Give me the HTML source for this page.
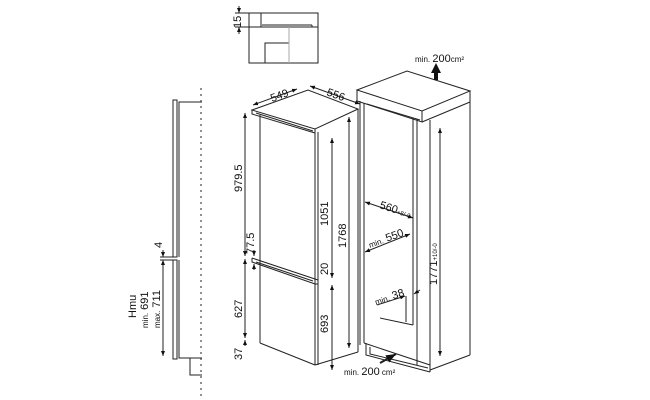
<!DOCTYPE html>
<html><head><meta charset="utf-8"><style>
html,body{margin:0;padding:0;background:#fff;}
svg{display:block;font-family:"Liberation Sans",sans-serif;}
text{font-size:11px;fill:#111;}
.s{font-size:8px;}
</style></head><body>
<svg width="650" height="400" viewBox="0 0 650 400">
<defs>
<marker id="a" viewBox="0 0 10 10" refX="10" refY="5" markerWidth="5" markerHeight="5" orient="auto-start-reverse"><path d="M0,1 L10,5 L0,9z" fill="#111"/></marker>
</defs>
<g fill="none" stroke="#222" stroke-width="1">
<rect x="249" y="13" width="69" height="50"/>
<line x1="249" y1="27" x2="318" y2="27"/>
<line x1="261" y1="13" x2="261" y2="27"/>
<line x1="262" y1="25" x2="312" y2="25"/>
<line x1="312" y1="25" x2="312" y2="27"/>
<polyline points="265,63 265,43 289,43"/>
<line x1="289" y1="27" x2="289" y2="63" stroke="#aaa"/>
<line x1="235" y1="13" x2="249" y2="13"/>
<line x1="235" y1="27" x2="249" y2="27"/>
<line x1="239" y1="6" x2="239" y2="13" marker-end="url(#a)"/>
<line x1="239" y1="34" x2="239" y2="27" marker-end="url(#a)"/>

<rect x="173" y="100" width="4" height="157"/>
<rect x="173" y="260" width="4" height="99"/>
<polyline points="202,102 179,102 179,257"/>
<polyline points="202,358 179,358 179,260"/>
<polyline points="190,358 190,375 202,375"/>
<line x1="201" y1="88" x2="201" y2="396" stroke-dasharray="2,4"/>
<line x1="163" y1="260" x2="163" y2="356" marker-start="url(#a)" marker-end="url(#a)"/>
<line x1="160" y1="257" x2="173" y2="257"/>
<line x1="160" y1="260" x2="173" y2="260"/>
<line x1="163" y1="250" x2="163" y2="257" marker-end="url(#a)"/>

<polygon points="252,110 308,90 358,109 315,129"/>
<polyline points="252,110 252,114 315,133"/>
<line x1="256" y1="113" x2="313" y2="131"/>
<line x1="260" y1="115" x2="260" y2="343"/>
<line x1="315" y1="129" x2="315" y2="365"/>
<line x1="318" y1="132" x2="318" y2="365"/>
<line x1="358" y1="109" x2="358" y2="352"/>
<line x1="315" y1="365" x2="358" y2="352"/>
<line x1="260" y1="343" x2="315" y2="365"/>
<polyline points="252,258 252,262 315,284 318,284"/>
<line x1="252" y1="258" x2="318" y2="280"/>
<line x1="256" y1="262" x2="313" y2="281"/>
<line x1="318" y1="277" x2="318" y2="284"/>
<line x1="245" y1="113" x2="245" y2="256" marker-start="url(#a)" marker-end="url(#a)"/>
<line x1="245" y1="259" x2="245" y2="338" marker-start="url(#a)" marker-end="url(#a)"/>
<line x1="245" y1="340" x2="245" y2="346" marker-start="url(#a)"/>
<line x1="254" y1="250" x2="254" y2="256" marker-end="url(#a)"/>
<line x1="254" y1="270" x2="254" y2="264" marker-end="url(#a)"/>
<line x1="332" y1="138" x2="332" y2="278" marker-start="url(#a)" marker-end="url(#a)"/>
<line x1="332" y1="285" x2="332" y2="370" marker-start="url(#a)" marker-end="url(#a)"/>
<line x1="349" y1="117" x2="349" y2="348" marker-start="url(#a)" marker-end="url(#a)"/>
<line x1="253" y1="105" x2="297" y2="89" marker-start="url(#a)" marker-end="url(#a)"/>
<line x1="310" y1="86" x2="360" y2="104" marker-start="url(#a)" marker-end="url(#a)"/>

<polygon points="357,90 407,71 470,91 422,111"/>
<polyline points="357,90 357,101 422,122 422,111"/>
<line x1="422" y1="122" x2="470" y2="102"/>
<line x1="470" y1="91" x2="470" y2="355"/>
<line x1="430" y1="370" x2="470" y2="355"/>
<line x1="360" y1="101" x2="360" y2="345"/>
<line x1="364" y1="103" x2="364" y2="343"/>
<line x1="367" y1="104" x2="420" y2="120"/>
<line x1="413" y1="118" x2="413" y2="325"/>
<line x1="417" y1="119" x2="417" y2="365"/>
<line x1="430" y1="120" x2="430" y2="372"/>
<line x1="364" y1="343" x2="430" y2="365"/>
<polyline points="366,343 366,355 430,372"/>
<polyline points="370,347 370,354 428,368"/>
<line x1="380" y1="318" x2="413" y2="325"/>
<line x1="406" y1="296" x2="406" y2="322"/>
<line x1="440" y1="128" x2="440" y2="356" marker-start="url(#a)" marker-end="url(#a)"/>
<line x1="365" y1="202" x2="413" y2="218" marker-start="url(#a)" marker-end="url(#a)"/>
<line x1="365" y1="252" x2="410" y2="234" marker-start="url(#a)" marker-end="url(#a)"/>
<line x1="377" y1="305" x2="405" y2="296" marker-end="url(#a)"/>
<line x1="420" y1="290" x2="414" y2="294" marker-end="url(#a)"/>
<line x1="380" y1="363" x2="396" y2="354" marker-end="url(#a)" stroke-width="2"/>
</g>
<path d="M431,73 L436,63 L441,73 L438,73 L438,80 L434,80 L434,73z" fill="#111"/>

<text x="415" y="62" class="s">min. <tspan font-size="11">200</tspan>cm²</text>
<text x="344" y="375" class="s">min. <tspan font-size="11">200</tspan> cm²</text>
<text transform="translate(241,28) rotate(-90)" font-size="11">15</text>
<text transform="translate(272,102) rotate(-20)" font-size="12">549</text>
<text transform="translate(326,95) rotate(20)" font-size="12">556</text>
<text transform="translate(242,192) rotate(-90)">979.5</text>
<text transform="translate(254,254) rotate(-90)">77.5</text>
<text transform="translate(242,318) rotate(-90)">627</text>
<text transform="translate(242,360) rotate(-90)">37</text>
<text transform="translate(328,226) rotate(-90)">1051</text>
<text transform="translate(328,275) rotate(-90)">20</text>
<text transform="translate(328,333) rotate(-90)">693</text>
<text transform="translate(346,248) rotate(-90)">1768</text>
<text transform="translate(437,285) rotate(-90)">1771<tspan font-size="6">+10/-0</tspan></text>
<text transform="translate(379,208) rotate(18)">560<tspan font-size="6">+8/-0</tspan></text>
<text transform="translate(370,248) rotate(-20)"><tspan class="s">min.</tspan> 550</text>
<text transform="translate(376,305) rotate(-18)"><tspan class="s">min.</tspan> 38</text>
<text transform="translate(162,248) rotate(-90)">4</text>
<text transform="translate(136,318) rotate(-90)" font-size="12">Hmu</text>
<text transform="translate(148,328) rotate(-90)"><tspan class="s">min.</tspan> 691</text>
<text transform="translate(160,328) rotate(-90)"><tspan class="s">max.</tspan> 711</text>
</svg>
</body></html>
